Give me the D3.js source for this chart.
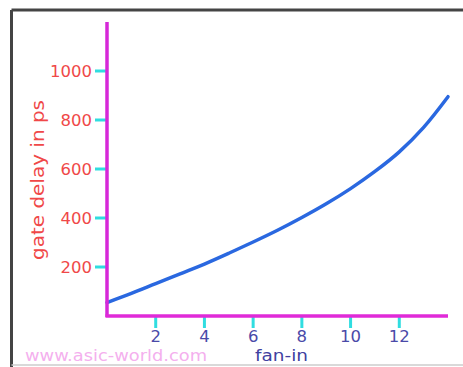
<!DOCTYPE html>
<html>
<head>
<meta charset="utf-8">
<script src="https://cdn.jsdelivr.net/npm/d3@7/dist/d3.min.js"></script>
<style>
  html, body { margin: 0; padding: 0; background: #fff; }
  svg { display: block; }
</style>
</head>
<body>
<svg id="chart" width="463" height="367"></svg>
<script>
// fan-in vs gate delay (ps)
var fanIn = [0, 1, 2, 3, 4, 5, 6, 7, 8, 9, 10, 11, 12, 13, 14];
var delayPs = [55, 92, 132, 172, 212, 256, 302, 350, 402, 458, 520, 590, 670, 770, 895];
var xTicks = [2, 4, 6, 8, 10, 12];
var yTicks = [200, 400, 600, 800, 1000];

var svg = d3.select("#chart");
var FONT = "'DejaVu Sans', Verdana, sans-serif";

// frame
svg.append("rect").attr("x", 0).attr("y", 0).attr("width", 463).attr("height", 367).attr("fill", "#fff");
svg.append("line").attr("x1", 11.5).attr("x2", 463).attr("y1", 10).attr("y2", 10)
  .attr("stroke", "#444").attr("stroke-width", 3);
svg.append("line").attr("x1", 11.5).attr("x2", 11.5).attr("y1", 10).attr("y2", 367)
  .attr("stroke", "#444").attr("stroke-width", 3);
svg.append("line").attr("x1", 11.5).attr("x2", 463).attr("y1", 365).attr("y2", 365)
  .attr("stroke", "#ccc").attr("stroke-width", 1.5);

var x = d3.scaleLinear().domain([0, 14]).range([107, 448]);
var y = d3.scaleLinear().domain([0, 1200]).range([316, 22]);

// curve
var line = d3.line()
  .x(function(d, i) { return x(fanIn[i]); })
  .y(function(d) { return y(d); })
  .curve(d3.curveCatmullRom);

svg.append("path").datum(delayPs)
  .attr("d", line)
  .attr("fill", "none")
  .attr("stroke", "#2a68e0")
  .attr("stroke-width", 3.5)
  .attr("stroke-linecap", "round");

// y ticks
var yAxis = svg.append("g");
yAxis.selectAll("line").data(yTicks).enter().append("line")
  .attr("x1", 95).attr("x2", 106)
  .attr("y1", function(d) { return y(d); })
  .attr("y2", function(d) { return y(d); })
  .attr("stroke", "#30dde0").attr("stroke-width", 3);
yAxis.selectAll("text").data(yTicks).enter().append("text")
  .attr("x", 92)
  .attr("y", function(d) { return y(d) + 6; })
  .attr("text-anchor", "end")
  .attr("font-family", FONT).attr("font-size", 16.5)
  .attr("fill", "#f04848")
  .text(function(d) { return d; });

// x ticks
var xAxis = svg.append("g");
xAxis.selectAll("line").data(xTicks).enter().append("line")
  .attr("x1", function(d) { return x(d); })
  .attr("x2", function(d) { return x(d); })
  .attr("y1", 317).attr("y2", 328)
  .attr("stroke", "#30dde0").attr("stroke-width", 3);
xAxis.selectAll("text").data(xTicks).enter().append("text")
  .attr("x", function(d) { return x(d); })
  .attr("y", 342)
  .attr("text-anchor", "middle")
  .attr("font-family", FONT).attr("font-size", 16.5)
  .attr("fill", "#4a4aa8")
  .text(function(d) { return d; });

// axes lines
svg.append("line").attr("x1", 107).attr("x2", 107).attr("y1", 22).attr("y2", 317)
  .attr("stroke", "#d628d8").attr("stroke-width", 3.5);
svg.append("line").attr("x1", 105.5).attr("x2", 448).attr("y1", 316).attr("y2", 316)
  .attr("stroke", "#e02ad8").attr("stroke-width", 3.5);

// labels
svg.append("text")
  .attr("transform", "translate(44,180) rotate(-90)")
  .attr("text-anchor", "middle")
  .attr("font-family", FONT).attr("font-size", 17)
  .attr("textLength", 160).attr("lengthAdjust", "spacingAndGlyphs")
  .attr("fill", "#f04848")
  .text("gate delay in ps");

svg.append("text")
  .attr("x", 25).attr("y", 361)
  .attr("font-family", FONT).attr("font-size", 15)
  .attr("textLength", 182).attr("lengthAdjust", "spacingAndGlyphs")
  .attr("fill", "#f4b0ee")
  .text("www.asic-world.com");

svg.append("text")
  .attr("x", 255).attr("y", 361)
  .attr("font-family", FONT).attr("font-size", 15.5)
  .attr("textLength", 53).attr("lengthAdjust", "spacingAndGlyphs")
  .attr("fill", "#4040a0")
  .text("fan-in");
</script>
</body>
</html>
